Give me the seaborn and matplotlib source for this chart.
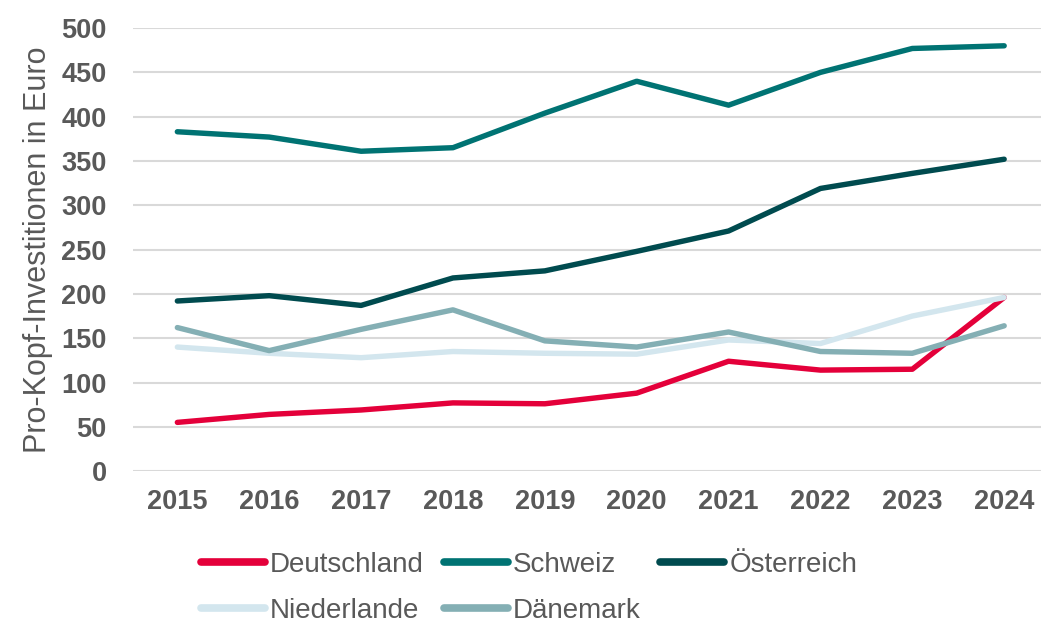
import matplotlib
matplotlib.use("Agg")
import matplotlib.pyplot as plt
import seaborn as sns
import pandas as pd

years = [2015, 2016, 2017, 2018, 2019, 2020, 2021, 2022, 2023, 2024]
deutschland = [55, 64, 69, 77, 76, 88, 124, 114, 115, 196]
schweiz = [383, 377, 361, 365, 404, 440, 413, 450, 477, 480]
oesterreich = [192, 198, 187, 218, 226, 248, 271, 319, 336, 352]
niederlande = [140, 133, 128, 135, 133, 132, 148, 144, 175, 196]
daenemark = [162, 136, 160, 182, 147, 140, 157, 135, 133, 164]

series = ["Deutschland", "Schweiz", "Österreich", "Niederlande", "Dänemark"]
colors = ["#E4003A", "#007373", "#004B4F", "#D3E6EE", "#84AFB4"]

df = pd.DataFrame({
    "Jahr": [str(y) for y in years] * 5,
    "Wert": deutschland + schweiz + oesterreich + niederlande + daenemark,
    "Land": [s for s in series for _ in years],
})

sns.set_style("white")
plt.rcParams["font.family"] = ["Liberation Sans", "DejaVu Sans"]
grey = "#595959"

fig = plt.figure(figsize=(10.41, 6.24), dpi=100)
ax = fig.add_axes([0.128, 0.245, 0.879, 0.71])

sns.lineplot(data=df, x="Jahr", y="Wert", hue="Land", hue_order=series,
             palette=dict(zip(series, colors)), linewidth=3.9, sort=False,
             ax=ax, legend=False, solid_capstyle="round")

ax.set_ylim(0, 500)
ax.set_xlim(-0.48, 9.48)
ax.set_yticks(range(0, 501, 50))
ax.grid(axis="y", color="#D9D9D9", linewidth=1.5)
ax.set_axisbelow(True)
for s in ax.spines.values():
    s.set_visible(False)
ax.tick_params(axis="both", length=0, labelsize=19.5, labelcolor=grey)
ax.tick_params(axis="y", pad=19)
ax.tick_params(axis="x", pad=13)
for lab in ax.get_xticklabels() + ax.get_yticklabels():
    lab.set_fontweight("bold")
ax.set_xlabel("")
ax.set_ylabel("Pro-Kopf-Investitionen in Euro", fontsize=22, color=grey, labelpad=6)

handles = [plt.Line2D([], [], color=c, linewidth=5.5, solid_capstyle="round") for c in colors]
order = [0, 3, 1, 4, 2]
fig.legend([handles[i] for i in order], [series[i] for i in order],
           loc="lower left", bbox_to_anchor=(0.169, -0.04), ncol=3, frameon=False,
           fontsize=20, labelcolor=grey, handlelength=2.3, handletextpad=0.18,
           columnspacing=0.72, labelspacing=0.72)

fig.savefig("out.png", dpi=100)
